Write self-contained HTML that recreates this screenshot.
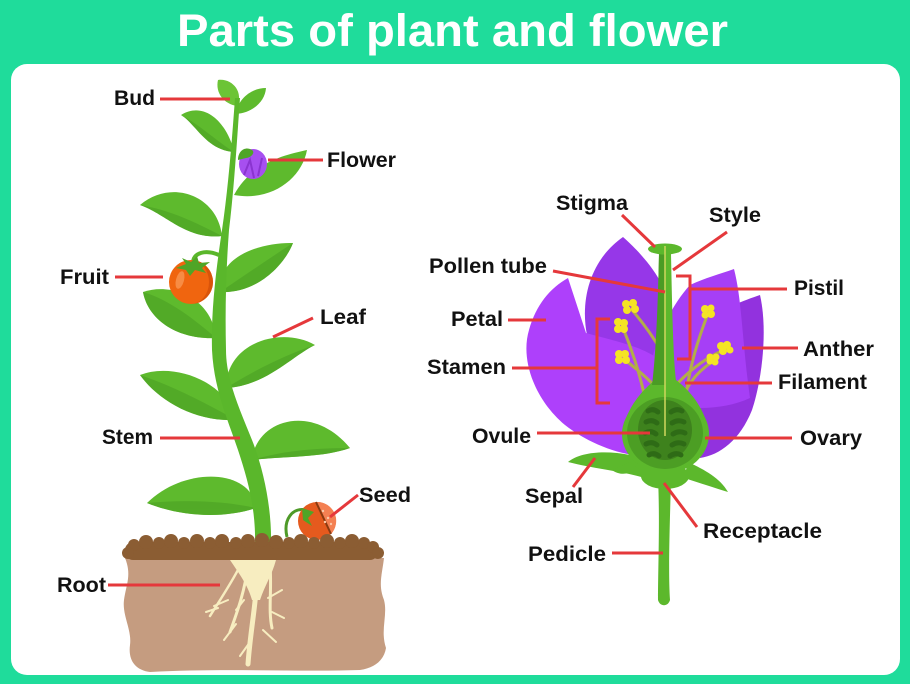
<!DOCTYPE html>
<html><head><meta charset="utf-8"><style>
html,body{margin:0;padding:0;width:910px;height:684px;overflow:hidden;background:#1fdc9b}
svg{display:block}
text{font-family:"Liberation Sans",Arial,sans-serif;font-weight:bold}
</style></head><body>
<svg width="910" height="684" viewBox="0 0 910 684" xmlns="http://www.w3.org/2000/svg">
<rect width="910" height="684" fill="#1fdc9b"/>
<rect x="11" y="64" width="889" height="611" rx="16" fill="#fff"/>
<text x="177" y="46" font-size="45" fill="#fff" textLength="551" lengthAdjust="spacingAndGlyphs">Parts of plant and flower</text>

<!-- ============ PLANT ============ -->
<g>
<!-- leaves -->
<g fill="#5eba2d">
<path d="M237,106 C244,92 232,78 218,80 C215,93 224,104 237,106 Z" fill="#6cc436"/>
<path d="M236,114 C238,98 252,88 266,88 C265,102 252,113 236,114 Z"/>
<path d="M234,152 C228,124 205,100 181,115 C196,124 206,150 234,152 Z"/>
<path d="M234,195 C252,162 285,155 307,150 C302,178 272,202 234,195 Z"/>
<path d="M222,236 C218,196 172,178 140,205 C166,214 186,240 222,236 Z"/>
<path d="M220,292 C216,256 262,242 293,243 C284,266 256,294 220,292 Z"/>
<path d="M216,338 C212,298 172,282 143,292 C148,320 178,340 216,338 Z"/>
<path d="M226,388 C226,342 282,326 315,345 C292,356 266,386 226,388 Z"/>
<path d="M236,420 C226,380 172,362 140,375 C158,400 194,422 236,420 Z"/>
<path d="M252,460 C256,420 312,402 350,448 C322,458 286,456 252,460 Z"/>
<path d="M256,508 C252,468 184,466 147,503 C184,518 226,518 256,508 Z"/>
</g>
<!-- leaf shading -->
<g fill="#4fa526" opacity="0.75">
<path d="M234,152 C215,140 200,125 181,115 C196,124 206,150 234,152 Z"/>
<path d="M222,236 C195,222 170,210 140,205 C166,214 186,240 222,236 Z"/>
<path d="M216,338 C195,320 170,300 143,292 C148,320 178,340 216,338 Z"/>
<path d="M226,388 C255,370 285,355 315,345 C292,356 266,386 226,388 Z"/>
<path d="M236,420 C200,400 170,385 140,375 C158,400 194,422 236,420 Z"/>
<path d="M252,460 C285,450 320,448 350,448 C322,458 286,456 252,460 Z"/>
<path d="M256,508 C220,500 180,500 147,503 C184,518 226,518 256,508 Z"/>
<path d="M220,292 C245,275 270,258 293,243 C284,266 256,294 220,292 Z"/>
</g>
<!-- stem -->
<path d="M235,98 C232,140 228,190 222,230 C216,270 211,310 212,350 C214,390 228,420 238,450 C248,480 256,510 255,545 L271,545 C272,510 264,470 252,440 C240,410 226,380 226,350 C225,310 226,270 229,230 C234,190 237,140 240,98 Z" fill="#5ab72b"/>
<!-- fruit -->
<path d="M193,262 C194,253 205,249 219,255" stroke="#5ab72b" stroke-width="4" fill="none"/>
<circle cx="191" cy="282" r="22" fill="#f0650f"/>
<path d="M191,260 A22,22 0 0,1 191,304 A18,22 0 0,0 191,260 Z" fill="#d9540a"/>
<ellipse cx="180" cy="280" rx="4" ry="9" fill="#f78c44" transform="rotate(15 180 280)"/>
<path d="M176,268 L186,264 L182,258 L191,262 L197,256 L199,263 L210,262 L202,268 L206,273 L195,270 L190,276 L186,270 Z" fill="#4fa526"/>
<!-- flower bud -->
<ellipse cx="253" cy="164" rx="14" ry="15" fill="#a74ff0"/>
<path d="M244,175 L250,160 L254,178 M258,176 L262,158" stroke="#8a34d0" stroke-width="2" fill="none"/>
<path d="M238,160 C238,150 246,146 252,150 C256,153 250,158 246,158 Z" fill="#4fa526"/>
<!-- seed -->
<path d="M287,537 C283,520 292,507 306,510" stroke="#4e9a28" stroke-width="3" fill="none"/>
<circle cx="317" cy="521" r="19" fill="#e55a1e"/>
<path d="M316,502 A19,19 0 0,1 331,534 Z" fill="#f48052"/>
<line x1="316" y1="502" x2="331" y2="534" stroke="#8a3a10" stroke-width="2"/>
<g fill="#fbc7a8"><circle cx="323" cy="511" r="1.2"/><circle cx="328" cy="518" r="1.2"/><circle cx="331" cy="524" r="1.2"/><circle cx="325" cy="522" r="1.2"/></g>
<path d="M302,508 L314,512 L308,518 L312,526 L303,520 Z" fill="#4fa526"/>
<!-- soil -->
<path d="M125,558 L384,558 C382,575 378,585 384,600 C388,615 380,630 386,648 C384,660 375,668 360,670 C300,672 220,668 150,672 C135,670 128,660 130,645 C132,630 122,615 124,600 C126,585 132,575 125,558 Z" fill="#c59c80"/>
<g fill="#8b5d33">
<rect x="125" y="542" width="253" height="18" rx="8"/>
<circle cx="134" cy="545" r="6"/><circle cx="146" cy="542" r="7"/><circle cx="159" cy="543" r="6"/><circle cx="171" cy="541" r="7"/><circle cx="184" cy="543" r="6"/><circle cx="197" cy="541" r="7"/><circle cx="210" cy="543" r="6"/><circle cx="222" cy="541" r="7"/><circle cx="236" cy="543" r="6"/><circle cx="248" cy="541" r="7"/><circle cx="262" cy="540" r="7"/><circle cx="276" cy="542" r="7"/><circle cx="289" cy="543" r="6"/><circle cx="301" cy="541" r="7"/><circle cx="314" cy="543" r="6"/><circle cx="327" cy="541" r="7"/><circle cx="340" cy="543" r="6"/><circle cx="352" cy="541" r="7"/><circle cx="364" cy="543" r="6"/><circle cx="373" cy="547" r="6"/>
<ellipse cx="128" cy="553" rx="6" ry="6"/><ellipse cx="378" cy="553" rx="6" ry="6"/>
</g>
<!-- roots -->
<g stroke="#f7edc0" fill="none" stroke-linecap="round">
<path d="M230,560 L276,560 C272,575 265,585 260,600 L252,600 C248,585 238,572 230,560 Z" fill="#f7edc0" stroke="none"/>
<path d="M257,580 C255,610 250,635 248,664" stroke-width="5"/>
<path d="M248,565 C245,590 238,610 230,632" stroke-width="3"/>
<path d="M270,565 C272,590 268,610 272,628" stroke-width="3"/>
<path d="M240,566 C232,582 220,600 210,616" stroke-width="2.5"/>
<path d="M228,600 L214,606 M236,624 L224,640 M268,598 L282,590 M263,630 L276,642 M250,642 L240,656 M218,608 L206,612 M272,612 L284,618 M244,600 L236,610" stroke-width="2"/>
</g>
</g>

<!-- ============ FLOWER ============ -->
<g>
<path d="M700,320 C720,310 745,300 760,295 C768,330 762,380 752,410 C740,440 720,455 700,458 Z" fill="#9232de"/>
<path d="M587,335 C580,300 590,260 623,237 C640,252 655,270 662,285 L665,370 L620,350 Z" fill="#9637e8"/>
<path d="M650,365 C660,330 672,305 690,285 C705,278 720,274 734,269 C742,300 742,340 750,398 C720,412 680,410 650,400 Z" fill="#a63ff6"/>
<path d="M568,278 L586,333 C610,340 640,345 660,360 L662,456 C630,460 590,445 565,425 C535,400 520,360 529,330 C536,305 550,288 568,278 Z" fill="#ae40fb"/>

<!-- filaments -->
<g stroke="#b3ad48" stroke-width="3" fill="none" stroke-linecap="round">
<path d="M632,310 C645,325 655,340 662,352"/>
<path d="M623,328 C632,350 640,375 645,398"/>
<path d="M625,360 C638,370 650,380 658,390"/>
<path d="M707,316 C698,340 690,365 686,395"/>
<path d="M724,350 C705,358 690,370 676,385"/>
<path d="M712,362 C700,370 690,380 684,395"/>
</g>
<!-- anthers -->
<g fill="#f4e424">
<g transform="translate(630,307)"><circle cx="-4" cy="-3" r="4"/><circle cx="3" cy="-4" r="4"/><circle cx="5" cy="2" r="4"/><circle cx="-3" cy="3" r="4"/></g>
<g transform="translate(621,326)"><circle cx="-3" cy="-4" r="4"/><circle cx="3" cy="-3" r="4"/><circle cx="3" cy="3" r="4"/><circle cx="-3" cy="3" r="4"/></g>
<g transform="translate(622,357)"><circle cx="-3" cy="-3" r="4"/><circle cx="3" cy="-3" r="4"/><circle cx="4" cy="3" r="4"/><circle cx="-3" cy="3" r="4"/></g>
<g transform="translate(708,312)"><circle cx="-3" cy="-3" r="4"/><circle cx="3" cy="-4" r="3.5"/><circle cx="3" cy="2" r="4"/><circle cx="-3" cy="3" r="3.5"/></g>
<g transform="translate(725,348)"><circle cx="-4" cy="-2" r="4"/><circle cx="2" cy="-3" r="4"/><circle cx="5" cy="2" r="3.5"/><circle cx="-2" cy="3" r="4"/></g>
<g transform="translate(713,359)"><circle cx="-3" cy="-2" r="3.5"/><circle cx="3" cy="-2" r="3.5"/><circle cx="2" cy="3" r="3.5"/><circle cx="-3" cy="2" r="3.5"/></g>
</g>

<!-- pedicle, sepals -->
<path d="M658,478 L671,478 C670,520 668,570 670,600 C668,607 660,607 658,600 C658,570 660,520 658,478 Z" fill="#5cb82c"/>
<path d="M650,480 C630,472 600,470 568,462 C580,452 605,450 630,455 L650,460 Z" fill="#5cb82c"/>
<path d="M640,470 C628,474 620,476 612,470 L630,462 Z" fill="#5cb82c"/>
<path d="M688,462 C705,470 720,478 728,492 C715,488 700,483 684,478 Z" fill="#5cb82c"/>
<ellipse cx="665" cy="476" rx="24" ry="13" fill="#5cb82c"/>

<!-- style & ovary -->
<path d="M659,254 L671,254 C672,300 673,355 676,380 C692,392 705,410 709,432 L622,432 C626,410 640,392 655,380 C657,355 658,300 659,254 Z" fill="#5cb82c"/>
<path d="M659,254 L665,254 L665,385 L652,385 C656,355 658,300 659,254 Z" fill="#4a9c24"/>
<ellipse cx="665" cy="249" rx="17" ry="5.5" fill="#5cb82c"/>
<ellipse cx="665.5" cy="434" rx="43.5" ry="39" fill="#5cb82c"/>
<ellipse cx="665" cy="433" rx="38" ry="36" fill="#4c9e24"/>
<ellipse cx="665" cy="430" rx="27" ry="30" fill="#3e821d"/>
<g stroke="#2e6b16" stroke-width="5" stroke-linecap="round" fill="none">
<path d="M648,411 Q653,408 658,412"/><path d="M671,412 Q677,408 682,411"/>
<path d="M646,422 Q652,419 657,423"/><path d="M672,423 Q678,419 684,422"/>
<path d="M645,433 Q651,430 656,434"/><path d="M673,434 Q679,430 685,433"/>
<path d="M646,444 Q652,441 657,445"/><path d="M672,445 Q678,441 684,444"/>
<path d="M649,455 Q654,452 659,456"/><path d="M670,456 Q676,452 681,455"/>
</g>
<line x1="665" y1="246" x2="665" y2="436" stroke="#c8d35a" stroke-width="1.6"/>
</g>

<!-- ============ CONNECTORS ============ -->
<g stroke="#e5383b" stroke-width="3" fill="none">
<line x1="160" y1="99" x2="230" y2="99"/>
<line x1="268" y1="160" x2="323" y2="160"/>
<line x1="115" y1="277" x2="163" y2="277"/>
<line x1="273" y1="337" x2="313" y2="318"/>
<line x1="160" y1="438" x2="240" y2="438"/>
<line x1="330" y1="517" x2="358" y2="495"/>
<line x1="108" y1="585" x2="220" y2="585"/>

<line x1="622" y1="215" x2="655" y2="247"/>
<line x1="727" y1="232" x2="673" y2="270"/>
<line x1="553" y1="271" x2="665" y2="292"/>
<polyline points="676,276 690,276 690,359 677,359"/>
<line x1="690" y1="289" x2="787" y2="289"/>
<line x1="508" y1="320" x2="546" y2="320"/>
<polyline points="610,319 597,319 597,403 610,403"/>
<line x1="512" y1="368" x2="597" y2="368"/>
<line x1="742" y1="348" x2="798" y2="348"/>
<line x1="685" y1="383" x2="772" y2="383"/>
<line x1="537" y1="433" x2="650" y2="433"/>
<line x1="705" y1="438" x2="792" y2="438"/>
<line x1="573" y1="487" x2="595" y2="458"/>
<line x1="664" y1="483" x2="697" y2="527"/>
<line x1="612" y1="553" x2="663" y2="553"/>
</g>

<!-- ============ LABELS ============ -->
<g font-size="21" fill="#111">
<text x="114" y="105" textLength="41" lengthAdjust="spacingAndGlyphs">Bud</text>
<text x="327" y="167" textLength="69" lengthAdjust="spacingAndGlyphs">Flower</text>
<text x="60" y="284" textLength="49" lengthAdjust="spacingAndGlyphs">Fruit</text>
<text x="320" y="324" textLength="46" lengthAdjust="spacingAndGlyphs">Leaf</text>
<text x="102" y="444" textLength="51" lengthAdjust="spacingAndGlyphs">Stem</text>
<text x="359" y="502" textLength="52" lengthAdjust="spacingAndGlyphs">Seed</text>
<text x="57" y="592" textLength="49" lengthAdjust="spacingAndGlyphs">Root</text>

<text x="556" y="210" textLength="72" lengthAdjust="spacingAndGlyphs">Stigma</text>
<text x="709" y="222" textLength="52" lengthAdjust="spacingAndGlyphs">Style</text>
<text x="429" y="273" textLength="118" lengthAdjust="spacingAndGlyphs">Pollen tube</text>
<text x="794" y="295" textLength="50" lengthAdjust="spacingAndGlyphs">Pistil</text>
<text x="451" y="326" textLength="52" lengthAdjust="spacingAndGlyphs">Petal</text>
<text x="427" y="374" textLength="79" lengthAdjust="spacingAndGlyphs">Stamen</text>
<text x="803" y="356" textLength="71" lengthAdjust="spacingAndGlyphs">Anther</text>
<text x="778" y="389" textLength="89" lengthAdjust="spacingAndGlyphs">Filament</text>
<text x="472" y="443" textLength="59" lengthAdjust="spacingAndGlyphs">Ovule</text>
<text x="800" y="445" textLength="62" lengthAdjust="spacingAndGlyphs">Ovary</text>
<text x="525" y="503" textLength="58" lengthAdjust="spacingAndGlyphs">Sepal</text>
<text x="703" y="538" textLength="119" lengthAdjust="spacingAndGlyphs">Receptacle</text>
<text x="528" y="561" textLength="78" lengthAdjust="spacingAndGlyphs">Pedicle</text>
</g>
</svg>
</body></html>
